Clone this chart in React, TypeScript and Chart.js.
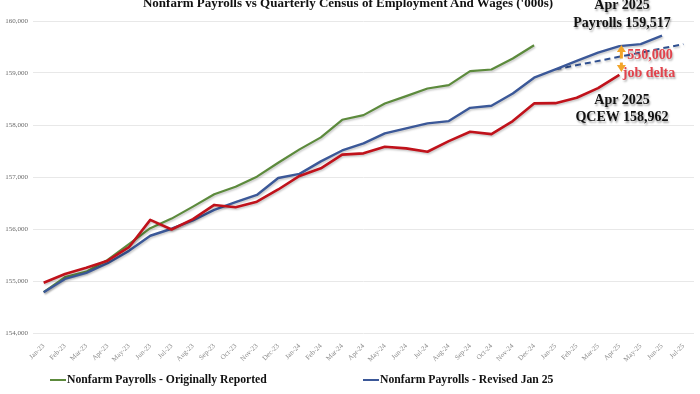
import React, { useEffect, useRef } from "react";
import { Chart, registerables } from "chart.js";

Chart.register(...registerables);

const months = [
  "Jan-23", "Feb-23", "Mar-23", "Apr-23", "May-23", "Jun-23", "Jul-23", "Aug-23", "Sep-23", "Oct-23", "Nov-23", "Dec-23",
  "Jan-24", "Feb-24", "Mar-24", "Apr-24", "May-24", "Jun-24", "Jul-24", "Aug-24", "Sep-24", "Oct-24", "Nov-24", "Dec-24",
  "Jan-25", "Feb-25", "Mar-25", "Apr-25", "May-25", "Jun-25", "Jul-25",
];

const originallyReported: (number | null)[] = [
  154785, 155075, 155180, 155405, 155710, 156015, 156200, 156430, 156668, 156814, 157006, 157274,
  157531, 157762, 158100, 158190, 158415, 158555, 158702, 158766, 159035, 159067, 159278, 159534,
  null, null, null, null, null, null, null,
];

const revisedJan25: (number | null)[] = [
  154785, 155040, 155158, 155343, 155580, 155870, 156005, 156165, 156367, 156515, 156655, 156980,
  157060, 157300, 157510, 157647, 157839, 157935, 158031, 158075, 158330, 158369, 158607, 158910,
  159070, 159235, 159390, 159517, 159555, 159718, null,
];

const revisedTrend: (number | null)[] = [
  null, null, null, null, null, null, null, null, null, null, null, null,
  null, null, null, null, null, null, null, null, null, null, null, null,
  159070, null, null, null, null, null, 159555,
];

const qcew: (number | null)[] = [
  154965, 155135, 155255, 155390, 155650, 156175, 155990, 156190, 156463, 156418, 156526, 156760,
  157020, 157167, 157430, 157455, 157582, 157551, 157486, 157691, 157870, 157825, 158075, 158415,
  158420, 158525, 158710, 158962, null, null, null,
];

const yMin = 154000;
const yMax = 160000;
const yStep = 1000;
const deltaIndex = 27; // Apr-25

const serif = "'Liberation Serif', 'DejaVu Serif', serif";

const shadowPlugin = {
  id: "lineShadow",
  beforeDatasetDraw(chart: any) {
    const ctx = chart.ctx;
    ctx.save();
    ctx.shadowColor = "rgba(0,0,0,0.22)";
    ctx.shadowBlur = 2;
    ctx.shadowOffsetX = 1;
    ctx.shadowOffsetY = 1.5;
  },
  afterDatasetDraw(chart: any) {
    chart.ctx.restore();
  },
};

const arrowPlugin = {
  id: "deltaArrows",
  afterDatasetsDraw(chart: any) {
    const { ctx, scales } = chart;
    const x = scales.x.getPixelForValue(deltaIndex) + 2;
    const yTop = scales.y.getPixelForValue(revisedJan25[deltaIndex] as number);
    const yBot = scales.y.getPixelForValue(qcew[deltaIndex] as number);
    const mid = (yTop + yBot) / 2;
    ctx.save();
    ctx.fillStyle = "#f2a52a";
    ctx.strokeStyle = "#f2a52a";
    ctx.lineWidth = 3;
    ctx.beginPath();
    ctx.moveTo(x, yTop + 4);
    ctx.lineTo(x, mid - 2);
    ctx.stroke();
    ctx.beginPath();
    ctx.moveTo(x, yTop - 1);
    ctx.lineTo(x - 4.5, yTop + 6);
    ctx.lineTo(x + 4.5, yTop + 6);
    ctx.closePath();
    ctx.fill();
    ctx.beginPath();
    ctx.moveTo(x, mid + 2);
    ctx.lineTo(x, yBot - 8);
    ctx.stroke();
    ctx.beginPath();
    ctx.moveTo(x, yBot - 3);
    ctx.lineTo(x - 4.5, yBot - 10);
    ctx.lineTo(x + 4.5, yBot - 10);
    ctx.closePath();
    ctx.fill();
    ctx.restore();
  },
};

const annStyle: React.CSSProperties = {
  position: "absolute",
  transform: "translate(-50%, -50%)",
  whiteSpace: "nowrap",
  fontFamily: serif,
  fontWeight: "bold",
  fontSize: "14px",
  lineHeight: "16px",
  color: "#111",
  textShadow: "1px 2px 2px rgba(0,0,0,0.35)",
};

const legendStyle: React.CSSProperties = {
  position: "absolute",
  top: 373,
  display: "flex",
  alignItems: "center",
  fontFamily: serif,
  fontWeight: "bold",
  fontSize: "11.7px",
  color: "#111",
  whiteSpace: "nowrap",
};

export default function App() {
  const canvasRef = useRef<HTMLCanvasElement | null>(null);

  useEffect(() => {
    document.body.style.margin = "0";
    const canvas = canvasRef.current;
    if (!canvas) return;
    const chart = new Chart(canvas, {
      type: "line",
      data: {
        labels: months,
        datasets: [
          {
            label: "QCEW",
            data: qcew,
            borderColor: "#c0121b",
            borderWidth: 2.6,
            pointRadius: 0,
            tension: 0,
            borderJoinStyle: "round",
          },
          {
            label: "Nonfarm Payrolls - Revised Jan 25",
            data: revisedJan25,
            borderColor: "#3b5898",
            borderWidth: 2.4,
            pointRadius: 0,
            tension: 0,
            borderJoinStyle: "round",
          },
          {
            label: "Revised trend",
            data: revisedTrend,
            borderColor: "#2f4f8f",
            borderWidth: 2,
            borderDash: [6, 4],
            pointRadius: 0,
            tension: 0,
            spanGaps: true,
          },
          {
            label: "Nonfarm Payrolls - Originally Reported",
            data: originallyReported,
            borderColor: "#5c8a3c",
            borderWidth: 2.2,
            pointRadius: 0,
            tension: 0,
            borderJoinStyle: "round",
          },
        ],
      },
      options: {
        responsive: false,
        animation: false,
        devicePixelRatio: 1,
        layout: { padding: { top: 21, right: 6, left: 0, bottom: 0 } },
        plugins: {
          legend: { display: false },
          title: { display: false },
          tooltip: { enabled: false },
        },
        scales: {
          x: {
            type: "category",
            offset: true,
            grid: { display: false },
            border: { display: false },
            ticks: {
              autoSkip: false,
              maxRotation: 45,
              minRotation: 45,
              color: "#8a8a8a",
              padding: 1,
              font: { family: serif, size: 7 },
            },
            afterFit: (scale: any) => {
              scale.height = 61;
            },
          },
          y: {
            min: yMin,
            max: yMax,
            grid: { color: "#e8e8e8", drawTicks: false, lineWidth: 1 },
            border: { display: false },
            ticks: {
              stepSize: yStep,
              color: "#6a6a6a",
              padding: 5,
              font: { family: serif, size: 7 },
              callback: (v: any) => Number(v).toLocaleString("en-US"),
            },
            afterFit: (scale: any) => {
              scale.width = 33;
            },
          },
        },
      },
      plugins: [shadowPlugin, arrowPlugin],
    } as any);
    return () => chart.destroy();
  }, []);

  return (
    <div style={{ position: "relative", width: 700, height: 394, background: "#fff", overflow: "hidden" }}>
      <canvas ref={canvasRef} width={700} height={394} style={{ position: "absolute", left: 0, top: 0 }} />
      <div
        style={{
          position: "absolute",
          left: 348,
          top: 3,
          transform: "translate(-50%, -50%)",
          whiteSpace: "nowrap",
          fontFamily: serif,
          fontWeight: "bold",
          fontSize: "13px",
          lineHeight: "16px",
          color: "#111",
        }}
      >
        Nonfarm Payrolls vs Quarterly Census of Employment And Wages ('000s)
      </div>
      <div style={{ ...annStyle, left: 622, top: 5 }}>Apr 2025</div>
      <div style={{ ...annStyle, left: 622, top: 23 }}>Payrolls 159,517</div>
      <div style={{ ...annStyle, left: 622, top: 100 }}>Apr 2025</div>
      <div style={{ ...annStyle, left: 622, top: 117 }}>QCEW 158,962</div>
      <div style={{ ...annStyle, left: 650, top: 55, color: "#e2434c", textShadow: "1px 2px 2px rgba(0,0,0,0.3)" }}>550,000</div>
      <div style={{ ...annStyle, left: 649, top: 73, color: "#e2434c", textShadow: "1px 2px 2px rgba(0,0,0,0.3)" }}>job delta</div>
      <div style={{ ...legendStyle, left: 50 }}>
        <span style={{ display: "inline-block", width: 16, height: 2, background: "#5c8a3c", marginRight: 1 }} />
        Nonfarm Payrolls - Originally Reported
      </div>
      <div style={{ ...legendStyle, left: 363 }}>
        <span style={{ display: "inline-block", width: 16, height: 2, background: "#3b5898", marginRight: 1 }} />
        Nonfarm Payrolls - Revised Jan 25
      </div>
    </div>
  );
}
